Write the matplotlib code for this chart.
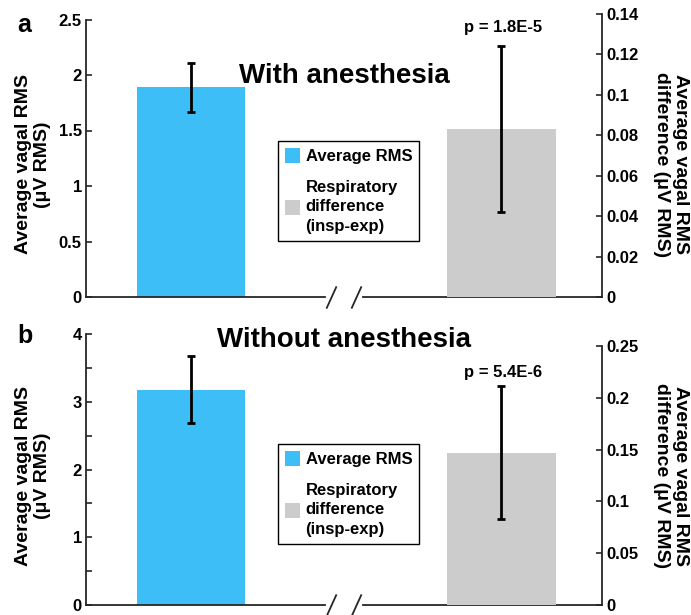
import matplotlib
matplotlib.use('Agg')
import matplotlib.pyplot as plt
from matplotlib.patches import Patch
from matplotlib.ticker import FuncFormatter, MultipleLocator

plt.rcParams['font.family'] = ['Liberation Sans', 'DejaVu Sans']
plt.rcParams['font.weight'] = 'bold'

# Data
panel_letters = ['a', 'b']
panel_titles = ['With anesthesia', 'Without anesthesia']
bar_positions = [1, 2]
avg_rms = [1.89, 3.18]
avg_rms_err = [0.22, 0.49]
resp_diff = [0.083, 0.147]
resp_diff_err = [0.041, 0.064]
p_labels = ['p = 1.8E-5', 'p = 5.4E-6']
left_ticks = [[0, 0.5, 1, 1.5, 2, 2.5], [0, 1, 2, 3, 4]]
right_ticks = [[0, 0.02, 0.04, 0.06, 0.08, 0.1, 0.12, 0.14],
               [0, 0.05, 0.1, 0.15, 0.2, 0.25]]
legend_labels = ['Average RMS', 'Respiratory\ndifference\n(insp-exp)']
left_ylabel = 'Average vagal RMS\n(\u03bcV RMS)'
right_ylabel = 'Average vagal RMS\ndifference (\u03bcV RMS)'

BLUE = '#3DBEF6'
GRAY = '#CCCCCC'
SPINE = '#262626'

W, H = 691, 615


def px_rect(left, right, top, bottom):
    # rectangle given in pixel coordinates of the final image -> figure fraction
    return [left / W, 1 - bottom / H, (right - left) / W, (bottom - top) / H]


def fmt(v, _):
    return f'{v:g}'


# per-panel layout in pixels (axes tops/bottom, text baselines, legend top),
# p-label offset in points and whether the left axis has minor ticks
layouts = [
    dict(ltop=19.5, rtop=14, bottom=297, title_y=83, letter_y=32, leg_top=141, p_off=10, minor=False),
    dict(ltop=334, rtop=346, bottom=605, title_y=347, letter_y=343, leg_top=444, p_off=6.5, minor=True),
]

fig = plt.figure(figsize=(W / 100, H / 100), dpi=100)

for i, lay in enumerate(layouts):
    ax = fig.add_axes(px_rect(86, 602, lay['ltop'], lay['bottom']))
    ax2 = fig.add_axes(px_rect(86, 602, lay['rtop'], lay['bottom']))
    ax2.patch.set_visible(False)

    ax.bar(bar_positions[0], avg_rms[i], width=0.349, color=BLUE, zorder=2)
    ax.errorbar(bar_positions[0], avg_rms[i], yerr=avg_rms_err[i], fmt='none',
                ecolor='black', elinewidth=2, capsize=3, capthick=2, zorder=3)
    ax2.bar(bar_positions[1], resp_diff[i], width=0.349, color=GRAY, zorder=2)
    ax2.errorbar(bar_positions[1], resp_diff[i], yerr=resp_diff_err[i], fmt='none',
                 ecolor='black', elinewidth=2, capsize=3, capthick=2, zorder=3)

    for a in (ax, ax2):
        a.set_xlim(0.662, 2.324)
        a.set_xticks([])
        for s in ('top', 'bottom'):
            a.spines[s].set_visible(False)
    ax.spines['right'].set_visible(False)
    ax2.spines['left'].set_visible(False)
    ax.spines['left'].set_color(SPINE)
    ax.spines['left'].set_linewidth(1.3)
    ax2.spines['right'].set_color(SPINE)
    ax2.spines['right'].set_linewidth(1.3)

    ax.set_ylim(left_ticks[i][0], left_ticks[i][-1])
    ax.set_yticks(left_ticks[i])
    ax.yaxis.set_major_formatter(FuncFormatter(fmt))
    if lay['minor']:
        ax.yaxis.set_minor_locator(MultipleLocator(0.5))
    ax.tick_params(axis='y', which='both', direction='in', length=4, width=1.2,
                   color=SPINE, labelsize=12, pad=3)

    ax2.set_ylim(right_ticks[i][0], right_ticks[i][-1])
    ax2.set_yticks(right_ticks[i])
    ax2.yaxis.set_major_formatter(FuncFormatter(fmt))
    ax2.yaxis.tick_right()
    ax2.tick_params(axis='y', direction='in', length=4, width=1.2,
                    color=SPINE, labelsize=12, pad=3)

    # broken x axis
    ax.plot([0, 0.463], [0, 0], transform=ax.transAxes, color=SPINE, lw=1.3, clip_on=False)
    ax.plot([0.537, 1], [0, 0], transform=ax.transAxes, color=SPINE, lw=1.3, clip_on=False)
    ax.plot([0.475, 0.523], [0, 0], transform=ax.transAxes, ls='none',
            marker=[(-1, -2.2), (1, 2.2)], markersize=16, mec=SPINE, mew=1.3, clip_on=False)

    # p value above the difference bar
    ax2.annotate(p_labels[i], (bar_positions[1], resp_diff[i] + resp_diff_err[i]),
                 xytext=(1, lay['p_off']), textcoords='offset points',
                 ha='center', va='baseline', fontsize=12)

    handles = [Patch(facecolor=BLUE, edgecolor='none'), Patch(facecolor=GRAY, edgecolor='none')]
    leg = ax2.legend(handles, legend_labels, loc='upper left',
                     bbox_to_anchor=(278 / W, 1 - lay['leg_top'] / H),
                     bbox_transform=fig.transFigure, borderaxespad=0,
                     fontsize=12, handlelength=0.9, handleheight=1.0,
                     handletextpad=0.35, borderpad=0.4, labelspacing=0.95,
                     fancybox=False, framealpha=1, edgecolor='black')
    leg.get_frame().set_linewidth(1.0)
    for t in leg.get_texts():
        t.set_linespacing(1.4)

    fig.text(344 / W, 1 - lay['title_y'] / H, panel_titles[i], fontsize=20,
             ha='center', va='baseline')
    fig.text(17 / W, 1 - lay['letter_y'] / H, panel_letters[i], fontsize=18,
             ha='left', va='baseline')

    mid = (lay['ltop'] + lay['bottom']) / 2 + 6
    fig.text(33 / W, 1 - mid / H, left_ylabel, rotation=90, fontsize=14,
             ha='center', va='center', multialignment='center', linespacing=1.2)
    fig.text(671 / W, 1 - mid / H, right_ylabel, rotation=270, fontsize=14,
             ha='center', va='center', multialignment='center', linespacing=1.2)

fig.savefig('out.png', dpi=100)
